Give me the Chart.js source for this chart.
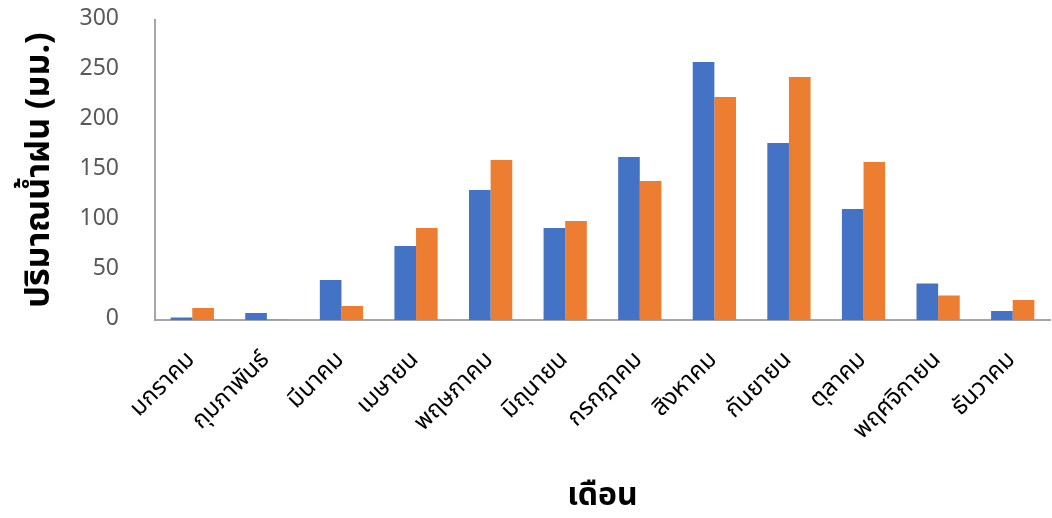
<!DOCTYPE html>
<html>
<head>
<meta charset="utf-8">
<script src="https://cdn.jsdelivr.net/npm/chart.js@4/dist/chart.umd.min.js"></script>
<style>
  html, body { margin: 0; padding: 0; background: #fff; }
  #wrap { width: 1052px; height: 518px; }
</style>
</head>
<body>
<div id="wrap"><canvas id="rain-chart" width="1052" height="518"></canvas></div>
<script>
const months = [
  "มกราคม", "กุมภาพันธ์", "มีนาคม", "เมษายน", "พฤษภาคม", "มิถุนายน",
  "กรกฎาคม", "สิงหาคม", "กันยายน", "ตุลาคม", "พฤศจิกายน", "ธันวาคม",
];
const seriesBlue = [2.5, 7, 40, 74, 130, 92, 163, 258, 177, 111, 36.5, 9];
const seriesOrange = [12, 0.5, 14, 92, 160, 99, 139, 223, 243, 158, 24.5, 20];
const yTicks = [0, 50, 100, 150, 200, 250, 300];

const thaiFont = "'Noto Sans Thai', 'Leelawadee UI', 'Tahoma', 'Noto Sans', sans-serif";

new Chart(document.getElementById("rain-chart"), {
  type: "bar",
  data: {
    labels: months,
    datasets: [
      {
        label: "ชุด 1",
        data: seriesBlue,
        backgroundColor: "#4472c4",
        categoryPercentage: 0.58,
        barPercentage: 1.0,
      },
      {
        label: "ชุด 2",
        data: seriesOrange,
        backgroundColor: "#ed7d31",
        categoryPercentage: 0.58,
        barPercentage: 1.0,
      },
    ],
  },
  options: {
    responsive: false,
    animation: false,
    layout: { padding: { left: 22, top: 20, right: 2, bottom: 0 } },
    plugins: { legend: { display: false }, tooltip: { enabled: false } },
    scales: {
      x: {
        grid: { display: false, drawTicks: false },
        border: { display: true, color: "#a6a6a6", width: 2 },
        ticks: {
          color: "#000",
          font: { family: thaiFont, size: 24 },
          minRotation: 45,
          maxRotation: 45,
          padding: 27,
        },
        title: {
          display: true,
          text: "เดือน",
          color: "#000",
          font: { family: thaiFont, size: 32, weight: "bold" },
          padding: { top: 0, bottom: 0 },
        },
        afterFit: (axis) => {
          axis.height = 198;
          axis.paddingTop = 0;
          axis.paddingBottom = 0;
          axis.paddingLeft = 0;
          axis.paddingRight = 0;
        },
      },
      y: {
        min: 0,
        max: 300,
        afterBuildTicks: (axis) => { axis.ticks = yTicks.map((v) => ({ value: v })); },
        grid: { display: false, drawTicks: false },
        border: { display: true, color: "#a6a6a6", width: 2 },
        ticks: {
          color: "#595959",
          font: { family: thaiFont, size: 23 },
          padding: 36,
        },
        title: {
          display: true,
          text: "ปริมาณน้ำฝน (มม.)",
          color: "#000",
          font: { family: thaiFont, size: 34, weight: "bold" },
          padding: { top: 0, bottom: 0 },
        },
        afterFit: (axis) => {
          axis.width = 133;
          axis.paddingTop = 0;
          axis.paddingBottom = 0;
        },
      },
    },
  },
});
</script>
</body>
</html>
